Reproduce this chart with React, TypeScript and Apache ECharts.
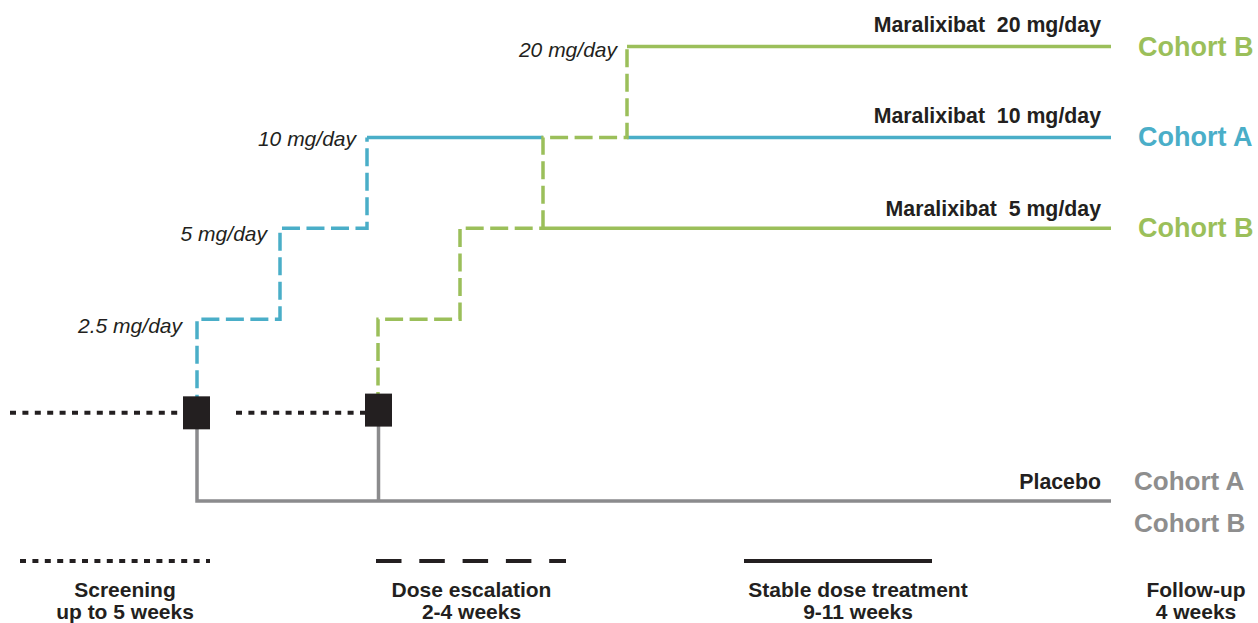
import React, { useEffect, useRef } from "react";
import * as echarts from "echarts";

// ---- Schematic data (x: timeline position, y: dose level index) ----
// dose levels: 0 = placebo, 1 = randomization, 2 = 2.5 mg, 3 = 5 mg, 4 = 10 mg, 5 = 20 mg
const doseLevelNames = ["Placebo", "Randomization", "2.5 mg/day", "5 mg/day", "10 mg/day", "20 mg/day"];

const screening1X = [10, 180];
const screening2X = [236, 365];
const screeningY = [0.97, 0.97];

const randomizationX = [196.5, 378.5];
const randomizationY = [0.97, 1.0];

const cohortAEscX = [197, 197, 280, 280, 367, 367];
const cohortAEscY = [0.97, 2, 2, 3, 3, 4];
const cohortAStable1X = [367, 543];
const cohortAStable2X = [627, 1111];
const cohortAStableY = [4, 4];

const cohortBEscX = [378, 378, 460, 460, 543];
const cohortBEscY = [1, 2, 2, 3, 3];
const cohortB5X = [543, 1111];
const cohortB5Y = [3, 3];
const cohortB20EscX = [543, 543, 627, 627];
const cohortB20EscY = [3, 4, 4, 5];
const cohortB20StableX = [627, 1111];
const cohortB20StableY = [5, 5];

const placeboAX = [197, 197, 1111];
const placeboAY = [0.97, 0, 0];
const placeboBX = [378.5, 378.5];
const placeboBY = [1, 0];

const doseLabels = ["20 mg/day", "10 mg/day", "5 mg/day", "2.5 mg/day"];
const armLabels = ["Maralixibat  20 mg/day", "Maralixibat  10 mg/day", "Maralixibat  5 mg/day", "Placebo"];
const phaseNames = ["Screening", "Dose escalation", "Stable dose treatment", "Follow-up"];
const phaseDurations = ["up to 5 weeks", "2-4 weeks", "9-11 weeks", "4 weeks"];

const BLUE = "#4aaec8";
const GREEN = "#9bbf5a";
const GRAY = "#8b8b8d";
const GRAYTEXT = "#8e8e8e";
const DARK = "#231f20";
const FONT = "'Liberation Sans', Arial, Helvetica, sans-serif";

const zip = (xs: number[], ys: number[]) => xs.map((x, i) => [x, ys[i]]);

const DASH = [18, 6.5];
const DOT = [6, 6.4];

function lineSeries(xs: number[], ys: number[], color: string, dash: any, width = 3.5) {
  return {
    type: "line",
    data: zip(xs, ys),
    symbol: "none",
    clip: false,
    silent: true,
    lineStyle: { color, width, type: dash, cap: "butt", join: "miter", opacity: 1 },
  };
}

export default function App() {
  const ref = useRef<HTMLDivElement>(null);

  useEffect(() => {
    if (!ref.current) return;
    const chart = echarts.init(ref.current, undefined, { renderer: "svg" });

    const bold = (size: number, color: string) => ({
      fontFamily: FONT,
      fontWeight: "bold",
      fontSize: size,
      fill: color,
    });
    const txt = (text: string, x: number, y: number, align: string, style: any) => ({
      type: "text",
      x,
      y,
      silent: true,
      style: { text, align, verticalAlign: "middle", ...style },
    });
    const italic = { fontFamily: FONT, fontStyle: "italic", fontSize: 21, fill: DARK };

    const graphic: any[] = [
      // dose labels
      txt(doseLabels[0], 617, 49, "right", italic),
      txt(doseLabels[1], 356, 138, "right", italic),
      txt(doseLabels[2], 267, 233, "right", italic),
      txt(doseLabels[3], 182, 325, "right", italic),
      // arm labels
      txt(armLabels[0], 1101, 25, "right", bold(21.3, DARK)),
      txt(armLabels[1], 1101, 116, "right", bold(21.3, DARK)),
      txt(armLabels[2], 1101, 209, "right", bold(21.3, DARK)),
      txt(armLabels[3], 1101, 482, "right", bold(21.3, DARK)),
      // cohort labels
      txt("Cohort B", 1138, 47, "left", bold(27, GREEN)),
      txt("Cohort A", 1138, 137, "left", bold(27, BLUE)),
      txt("Cohort B", 1138, 228, "left", bold(27, GREEN)),
      txt("Cohort A", 1134, 481, "left", bold(26, GRAYTEXT)),
      txt("Cohort B", 1134, 523, "left", bold(26, GRAYTEXT)),
      // phase legend keys
      {
        type: "line",
        silent: true,
        shape: { x1: 20, y1: 561, x2: 210, y2: 561 },
        style: { stroke: DARK, lineWidth: 4, lineDash: DOT },
      },
      {
        type: "line",
        silent: true,
        shape: { x1: 376, y1: 561, x2: 566, y2: 561 },
        style: { stroke: DARK, lineWidth: 4, lineDash: [25.5, 17.8] },
      },
      {
        type: "line",
        silent: true,
        shape: { x1: 744, y1: 561, x2: 932, y2: 561 },
        style: { stroke: DARK, lineWidth: 4 },
      },
      // phase names
      txt(phaseNames[0], 125, 589, "center", bold(21, DARK)),
      txt(phaseDurations[0], 125, 611, "center", bold(21, DARK)),
      txt(phaseNames[1], 471.5, 589, "center", bold(21, DARK)),
      txt(phaseDurations[1], 471.5, 611, "center", bold(21, DARK)),
      txt(phaseNames[2], 858, 589, "center", bold(21, DARK)),
      txt(phaseDurations[2], 858, 611, "center", bold(21, DARK)),
      txt(phaseNames[3], 1196, 589, "center", bold(21, DARK)),
      txt(phaseDurations[3], 1196, 611, "center", bold(21, DARK)),
    ];

    chart.setOption({
      animation: false,
      backgroundColor: "#ffffff",
      grid: { left: 0, right: 0, top: 46.5, bottom: 122 },
      xAxis: { type: "value", min: 0, max: 1258, show: false },
      yAxis: {
        type: "value",
        min: 0,
        max: doseLevelNames.length - 1,
        show: false,
      },
      series: [
        lineSeries(screening1X, screeningY, DARK, DOT, 4),
        lineSeries(screening2X, screeningY, DARK, DOT, 4),
        lineSeries(placeboAX, placeboAY, GRAY, "solid"),
        lineSeries(placeboBX, placeboBY, GRAY, "solid"),
        lineSeries(cohortAEscX, cohortAEscY, BLUE, DASH),
        lineSeries(cohortAStable1X, cohortAStableY, BLUE, "solid"),
        lineSeries(cohortAStable2X, cohortAStableY, BLUE, "solid"),
        lineSeries(cohortBEscX, cohortBEscY, GREEN, DASH),
        lineSeries(cohortB5X, cohortB5Y, GREEN, "solid"),
        lineSeries(cohortB20EscX, cohortB20EscY, GREEN, DASH),
        lineSeries(cohortB20StableX, cohortB20StableY, GREEN, "solid"),
        {
          type: "scatter",
          data: zip(randomizationX, randomizationY),
          symbol: "rect",
          symbolSize: [27, 33],
          clip: false,
          silent: true,
          itemStyle: { color: DARK, opacity: 1 },
          z: 5,
        },
      ],
      graphic,
    });

    return () => chart.dispose();
  }, []);

  return (
    <div
      ref={ref}
      style={{ position: "absolute", left: 0, top: 0, width: 1258, height: 623, background: "#fff" }}
    />
  );
}
